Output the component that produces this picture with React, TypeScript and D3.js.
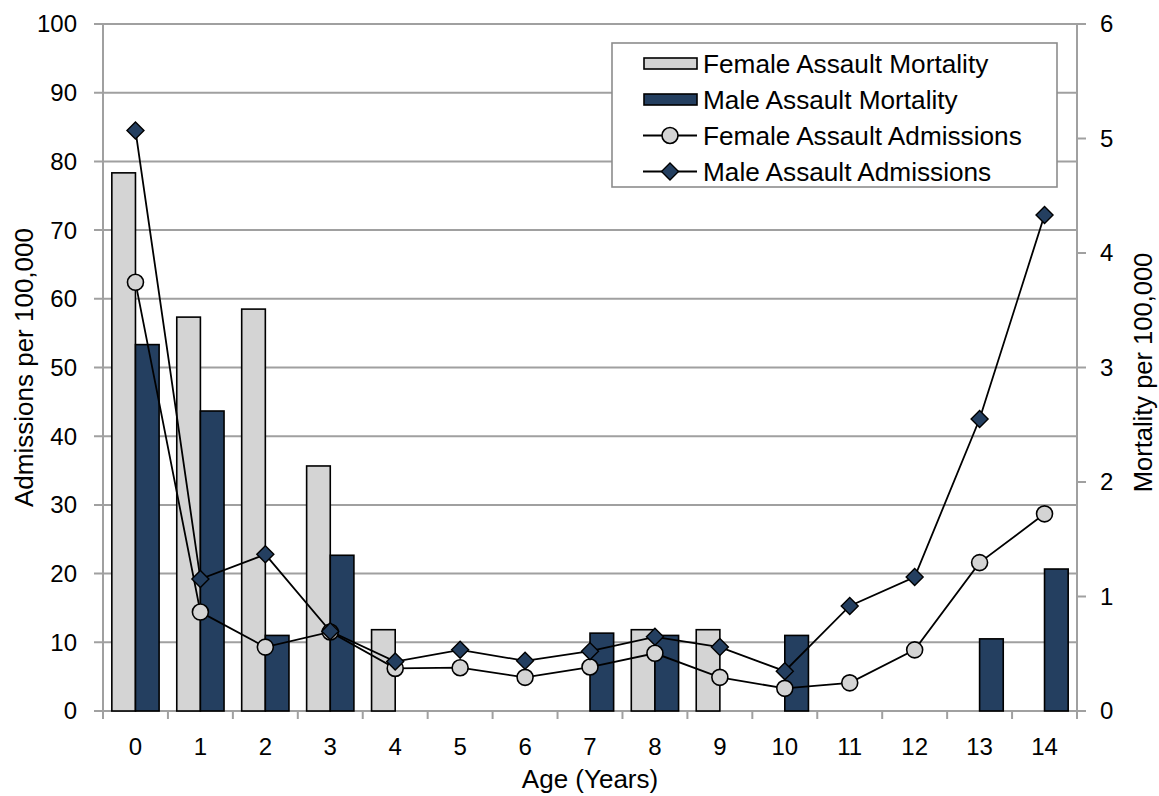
import React from "react";
import * as d3 from "d3";

const ages = ["0", "1", "2", "3", "4", "5", "6", "7", "8", "9", "10", "11", "12", "13", "14"];
// Mortality per 100,000 (right axis), null = no bar
const femaleMortality: (number | null)[] = [4.7, 3.44, 3.51, 2.14, 0.71, null, null, null, 0.71, 0.71, null, null, null, null, null];
const maleMortality: (number | null)[] = [3.2, 2.62, 0.66, 1.36, null, null, null, 0.68, 0.66, null, 0.66, null, null, 0.63, 1.24];
// Admissions per 100,000 (left axis)
const femaleAdmissions = [62.4, 14.4, 9.3, 11.5, 6.2, 6.3, 4.9, 6.4, 8.4, 4.9, 3.3, 4.1, 8.9, 21.6, 28.7];
const maleAdmissions = [84.5, 19.2, 22.8, 11.6, 7.2, 8.9, 7.3, 8.7, 10.8, 9.3, 5.8, 15.3, 19.5, 42.5, 72.2];

const leftTicks = [0, 10, 20, 30, 40, 50, 60, 70, 80, 90, 100];
const rightTicks = [0, 1, 2, 3, 4, 5, 6];

const legendItems = [
  { label: "Female Assault Mortality", kind: "bar", fill: "#d4d4d4" },
  { label: "Male Assault Mortality", kind: "bar", fill: "#243f60" },
  { label: "Female Assault Admissions", kind: "circle", fill: "#d4d4d4" },
  { label: "Male Assault Admissions", kind: "diamond", fill: "#243f60" },
];

const W = 1159;
const H = 796;
const L = 103, R = 1077, T = 24, B = 711;
const FEMALE = "#d4d4d4";
const MALE = "#243f60";
const GRID = "#a0a0a0";
const FONT = "'Liberation Sans', Arial, sans-serif";

export default function App() {
  const x = d3.scaleBand<string>().domain(ages).range([L, R]).padding(0);
  const yL = d3.scaleLinear().domain([0, 100]).range([B, T]);
  const yR = d3.scaleLinear().domain([0, 6]).range([B, T]);
  const bw = x.bandwidth() * 0.364;
  const cx = (a: string) => (x(a) as number) + x.bandwidth() / 2;

  const line = d3
    .line<number>()
    .x((_, i) => cx(ages[i]))
    .y((d) => yL(d));

  const diamond = (px: number, py: number, r = 8.5) =>
    `M${px},${py - r}L${px + r},${py}L${px},${py + r}L${px - r},${py}Z`;

  return (
    <svg
      width={W}
      height={H}
      style={{ position: "absolute", left: 0, top: 0, background: "#fff" }}
      fontFamily={FONT}
    >
      <rect x={0} y={0} width={W} height={H} fill="#fff" />
      {/* gridlines */}
      {leftTicks.map((t) => (
        <line key={"g" + t} x1={L - 9} x2={R} y1={yL(t)} y2={yL(t)} stroke={GRID} strokeWidth={2} />
      ))}
      {/* axes */}
      <line x1={L} x2={L} y1={T} y2={B + 8} stroke={GRID} strokeWidth={2} />
      <line x1={R} x2={R} y1={T} y2={B + 8} stroke={GRID} strokeWidth={2} />
      {rightTicks.map((t) => (
        <line key={"rt" + t} x1={R} x2={R + 9} y1={yR(t)} y2={yR(t)} stroke={GRID} strokeWidth={2} />
      ))}
      {ages.map((a) => (
        <line key={"xt" + a} x1={x(a) as number} x2={x(a) as number} y1={B} y2={B + 8} stroke={GRID} strokeWidth={2} />
      ))}
      {/* left tick labels */}
      {leftTicks.map((t) => (
        <text key={"lt" + t} x={77} y={yL(t)} dy="0.35em" textAnchor="end" fontSize={24} fill="#000">
          {t}
        </text>
      ))}
      {rightTicks.map((t) => (
        <text key={"rl" + t} x={1100} y={yR(t)} dy="0.35em" textAnchor="start" fontSize={24} fill="#000">
          {t}
        </text>
      ))}
      {ages.map((a) => (
        <text key={"xl" + a} x={cx(a)} y={755} textAnchor="middle" fontSize={24} fill="#000">
          {a}
        </text>
      ))}
      {/* axis titles */}
      <text
        transform={`translate(33,${(T + B) / 2}) rotate(-90)`}
        textAnchor="middle"
        fontSize={26}
        fill="#000"
      >
        Admissions per 100,000
      </text>
      <text
        transform={`translate(1152,${(T + B) / 2 + 5}) rotate(-90)`}
        textAnchor="middle"
        fontSize={25.5}
        fill="#000"
      >
        Mortality per 100,000
      </text>
      <text x={(L + R) / 2} y={788} textAnchor="middle" fontSize={26} fill="#000">
        Age (Years)
      </text>
      {/* bars */}
      {ages.map((a, i) => {
        const f = femaleMortality[i];
        const m = maleMortality[i];
        const c = cx(a);
        return (
          <g key={"b" + a}>
            {f != null && (
              <rect x={c - bw} y={yR(f)} width={bw} height={B - yR(f)} fill={FEMALE} stroke="#000" strokeWidth={1.6} />
            )}
            {m != null && (
              <rect x={c} y={yR(m)} width={bw} height={B - yR(m)} fill={MALE} stroke="#000" strokeWidth={1.6} />
            )}
          </g>
        );
      })}
      {/* lines */}
      <path d={line(femaleAdmissions) as string} fill="none" stroke="#000" strokeWidth={1.8} />
      <path d={line(maleAdmissions) as string} fill="none" stroke="#000" strokeWidth={1.8} />
      {femaleAdmissions.map((v, i) => (
        <circle key={"fc" + i} cx={cx(ages[i])} cy={yL(v)} r={8} fill={FEMALE} stroke="#000" strokeWidth={1.6} />
      ))}
      {maleAdmissions.map((v, i) => (
        <path key={"md" + i} d={diamond(cx(ages[i]), yL(v))} fill={MALE} stroke="#000" strokeWidth={1.4} />
      ))}
      {/* legend */}
      <rect x={612} y={43} width={445} height={144} fill="#fff" stroke="#8c8c8c" strokeWidth={1.6} />
      {legendItems.map((it, i) => {
        const yy = 63.5 + i * 36;
        return (
          <g key={"lg" + i}>
            {it.kind === "bar" ? (
              <rect x={644} y={yy - 5.5} width={53} height={11} fill={it.fill} stroke="#000" strokeWidth={1.6} />
            ) : (
              <>
                <line x1={643} x2={697} y1={yy} y2={yy} stroke="#000" strokeWidth={1.8} />
                {it.kind === "circle" ? (
                  <circle cx={670} cy={yy} r={8} fill={it.fill} stroke="#000" strokeWidth={1.6} />
                ) : (
                  <path d={diamond(670, yy)} fill={it.fill} stroke="#000" strokeWidth={1.4} />
                )}
              </>
            )}
            <text x={703} y={yy} dy="0.35em" fontSize={26.2} fill="#000">
              {it.label}
            </text>
          </g>
        );
      })}
    </svg>
  );
}
